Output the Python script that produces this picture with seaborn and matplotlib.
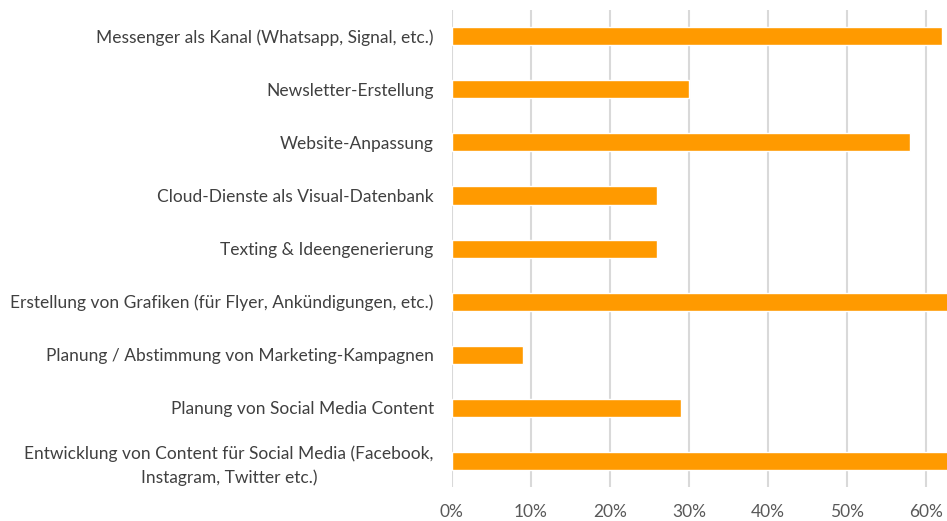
import pandas as pd
import seaborn as sns
import matplotlib.pyplot as plt
from matplotlib.ticker import PercentFormatter

# categories top to bottom
kategorien = [
    'Messenger als Kanal (Whatsapp, Signal, etc.)',
    'Newsletter-Erstellung',
    'Website-Anpassung',
    'Cloud-Dienste als Visual-Datenbank',
    'Texting & Ideengenerierung',
    'Erstellung von Grafiken (für Flyer, Ankündigungen, etc.)',
    'Planung / Abstimmung von Marketing-Kampagnen',
    'Planung von Social Media Content',
    'Entwicklung von Content für Social Media (Facebook,\nInstagram, Twitter etc.)',
]
# share in percent (two bars run past the cropped edge)
anteil = [62, 30, 58, 26, 26, 68, 9, 29, 72]
x_ticks = [0, 10, 20, 30, 40, 50, 60]

df = pd.DataFrame({'Kategorie': kategorien, 'Anteil': anteil})

sns.set_style('white')
plt.rcParams['font.family'] = ['Lato', 'DejaVu Sans']

fig = plt.figure(figsize=(9.47, 5.21), dpi=100)
ax = fig.add_axes([0.477, 0.065, 0.523, 0.916])

sns.barplot(data=df, x='Anteil', y='Kategorie', orient='h', color='#FF9A00',
            width=0.34, saturation=1, ax=ax, zorder=3)

ax.set_xlim(0, 62.66)
ax.set_xticks(x_ticks)
ax.xaxis.set_major_formatter(PercentFormatter(decimals=0))
ax.grid(axis='x', color='#d9d9d9', linewidth=1.5, zorder=0)
ax.set_axisbelow(True)
for s in ax.spines.values():
    s.set_visible(False)
ax.tick_params(axis='both', length=0, labelsize=12.5, colors='#404040')
ax.tick_params(axis='x', pad=12, colors='#595959')
ax.tick_params(axis='y', pad=13)
for lab in ax.get_yticklabels():
    lab.set_multialignment('center')
    lab.set_linespacing(1.55)
ax.set_xlabel('')
ax.set_ylabel('')

fig.savefig('out.png', dpi=100)
